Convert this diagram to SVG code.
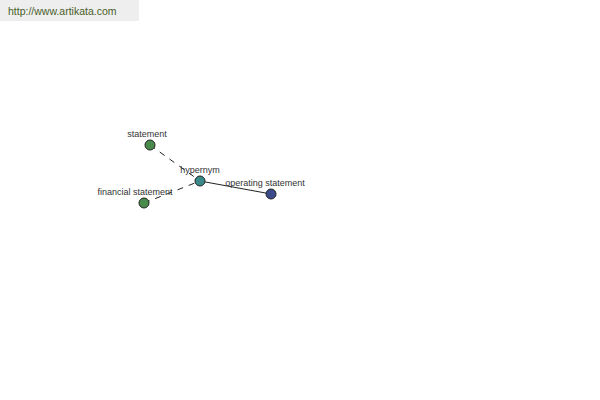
<svg xmlns="http://www.w3.org/2000/svg" width="600" height="400" viewBox="0 0 600 400">
<style>
text{font-family:"Liberation Sans",Arial,sans-serif;font-size:9px;fill:#333}
.n{stroke:#222;stroke-width:1}
.d{stroke:#222;stroke-width:1;stroke-dasharray:6,6;fill:none}
.s{stroke:#222;stroke-width:1;fill:none}
</style>
<rect x="0" y="0" width="600" height="400" fill="#fff"/>
<rect x="0" y="0" width="139" height="21" fill="#eeeeee"/>
<text x="8" y="15" style="font-size:10.5px;fill:#4a5e2a">http://www.artikata.com</text>
<g id="connectors">
<line class="d" x1="150" y1="145" x2="200" y2="181"/>
<line class="d" x1="144" y1="203" x2="200" y2="181"/>
<line class="s" x1="200" y1="181" x2="271" y2="194"/>
</g>
<g id="statement"><circle class="n" cx="150" cy="145" r="5" fill="#4a8a4a"/><text x="147" y="137" text-anchor="middle">statement</text></g>
<g id="financial"><circle class="n" cx="144" cy="203" r="5" fill="#4a8a4a"/><text x="135" y="195" text-anchor="middle">financial statement</text></g>
<g id="hypernym"><circle class="n" cx="200" cy="181" r="5" fill="#3a8a8a"/><text x="200" y="173" text-anchor="middle">hypernym</text></g>
<g id="operating"><circle class="n" cx="271" cy="194" r="5" fill="#3a4a8a"/><text x="265" y="186" text-anchor="middle">operating statement</text></g>
</svg>
